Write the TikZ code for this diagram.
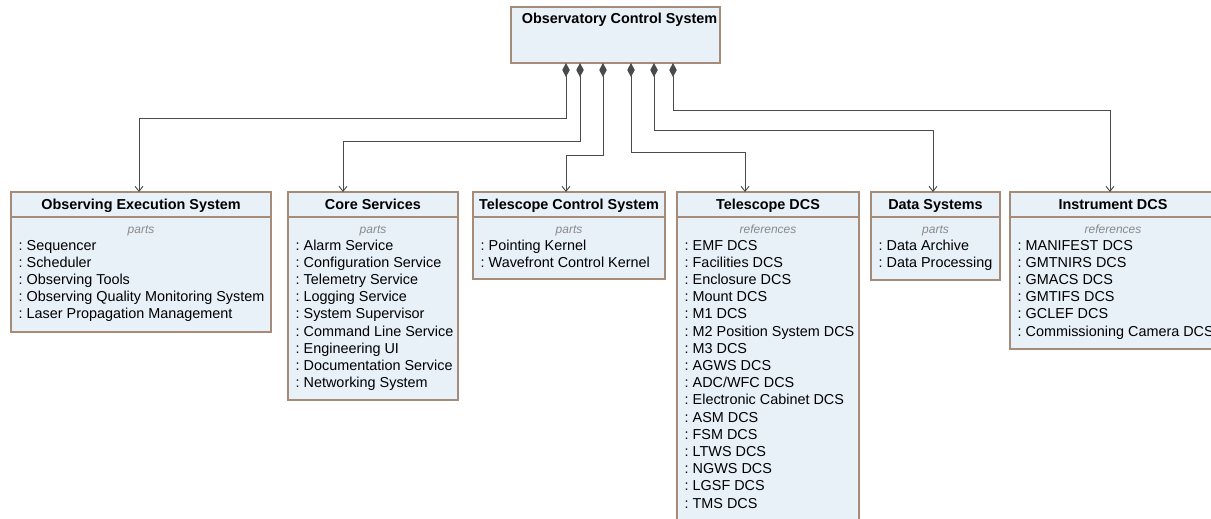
\documentclass[tikz,border=0pt]{standalone}
\usepackage{fontspec}
\setmainfont{Liberation Sans}
\usetikzlibrary{arrows.meta}
\definecolor{boxfill}{HTML}{E8F0F8}
\definecolor{boxdraw}{HTML}{A58B78}
\definecolor{linec}{HTML}{4A4A4A}
\definecolor{kindc}{HTML}{8A8A8A}
\newcommand\umlbox[7]{% name, x, y, w, h, title, kind
  \node[box, minimum width=#4pt, minimum height=#5pt] (#1) at (#2,#3) {};
  \draw[boxdraw, line width=1.3pt] ([yshift=-25pt]#1.north west) -- ([yshift=-25pt]#1.north east);
  \node[titletext] (#1-title) at ([yshift=-17pt]#1.north) {#6};
  \node[kindtext] (#1-kind) at ([yshift=-41.8pt]#1.north) {#7};
}
\newcommand\umlitems[3]{% name, x offset, list
  \foreach \t [count=\i] in {#3} {
    \node[itemtext] (#1-\i) at ([xshift=#2pt, yshift={-58pt-17.2pt*(\i-1)}]#1.north west) {:\ \t};
  }
}
\begin{document}
\begin{tikzpicture}[x=1pt,y=-1pt,
  box/.style={draw=boxdraw, fill=boxfill, line width=1.3pt, inner sep=0pt, outer sep=0pt, anchor=north west},
  titletext/.style={font=\bfseries\fontsize{14.4}{16}\selectfont, inner sep=0pt, anchor=base},
  kindtext/.style={font=\itshape\fontsize{12}{14}\selectfont, text=kindc, inner sep=0pt, anchor=base},
  itemtext/.style={font=\fontsize{14.4}{16}\selectfont, inner sep=0pt, anchor=base west},
  conn/.style={draw=linec, line width=0.9pt, {Diamond[length=14pt,width=7.5pt]}-{Straight Barb[length=5pt,width=8pt]}}
]
\useasboundingbox (0,0) rectangle (1211,519);
\clip (0,0) rectangle (1211,519);

% top box
\node[box, minimum width=209pt, minimum height=56pt] (ocs) at (511,7) {};
\node[titletext] (ocs-title) at ([xshift=4pt, yshift=-16.5pt]ocs.north) {Observatory Control System};

% child boxes
\umlbox{oes}{11}{192}{260}{140}{Observing Execution System}{parts}
\umlitems{oes}{7.5}{Sequencer,Scheduler,Observing Tools,Observing Quality Monitoring System,Laser Propagation Management}

\umlbox{cs}{288}{192}{170}{208}{Core Services}{parts}
\umlitems{cs}{7.5}{Alarm Service,Configuration Service,Telemetry Service,Logging Service,System Supervisor,Command Line Service,Engineering UI,Documentation Service,Networking System}

\umlbox{tcs}{473}{192}{192}{87}{Telescope Control System}{parts}
\umlitems{tcs}{7.5}{Pointing Kernel,Wavefront Control Kernel}

\umlbox{tdcs}{677}{192}{182}{340}{Telescope DCS}{references}
\umlitems{tdcs}{7.5}{EMF DCS,Facilities DCS,Enclosure DCS,Mount DCS,M1 DCS,M2 Position System DCS,M3 DCS,AGWS DCS,ADC/WFC DCS,Electronic Cabinet DCS,ASM DCS,FSM DCS,LTWS DCS,NGWS DCS,LGSF DCS,TMS DCS}

\umlbox{ds}{871}{192}{129}{88}{Data Systems}{parts}
\umlitems{ds}{7.5}{Data Archive,Data Processing}

\umlbox{idcs}{1010}{192}{206}{157}{Instrument DCS}{references}
\umlitems{idcs}{7.5}{MANIFEST DCS,GMTNIRS DCS,GMACS DCS,GMTIFS DCS,GCLEF DCS,Commissioning Camera DCS}

% connector ends
\coordinate (d1) at ([xshift=55pt]ocs.south west);
\coordinate (d2) at ([xshift=69pt]ocs.south west);
\coordinate (d3) at ([xshift=92pt]ocs.south west);
\coordinate (d4) at ([xshift=120pt]ocs.south west);
\coordinate (d5) at ([xshift=143pt]ocs.south west);
\coordinate (d6) at ([xshift=162pt]ocs.south west);
\coordinate (e1) at ([xshift=128pt]oes.north west);
\coordinate (e2) at ([xshift=55pt]cs.north west);
\coordinate (e3) at ([xshift=93pt]tcs.north west);
\coordinate (e4) at ([xshift=68pt]tdcs.north west);
\coordinate (e5) at ([xshift=62pt]ds.north west);
\coordinate (e6) at ([xshift=100pt]idcs.north west);

\draw[conn] (d1) -- ++(0,55) -| (e1);
\draw[conn] (d2) -- ++(0,78) -| (e2);
\draw[conn] (d3) -- ++(0,92) -| (e3);
\draw[conn] (d4) -- ++(0,89) -| (e4);
\draw[conn] (d5) -- ++(0,67) -| (e5);
\draw[conn] (d6) -- ++(0,47) -| (e6);
\end{tikzpicture}
\end{document}
